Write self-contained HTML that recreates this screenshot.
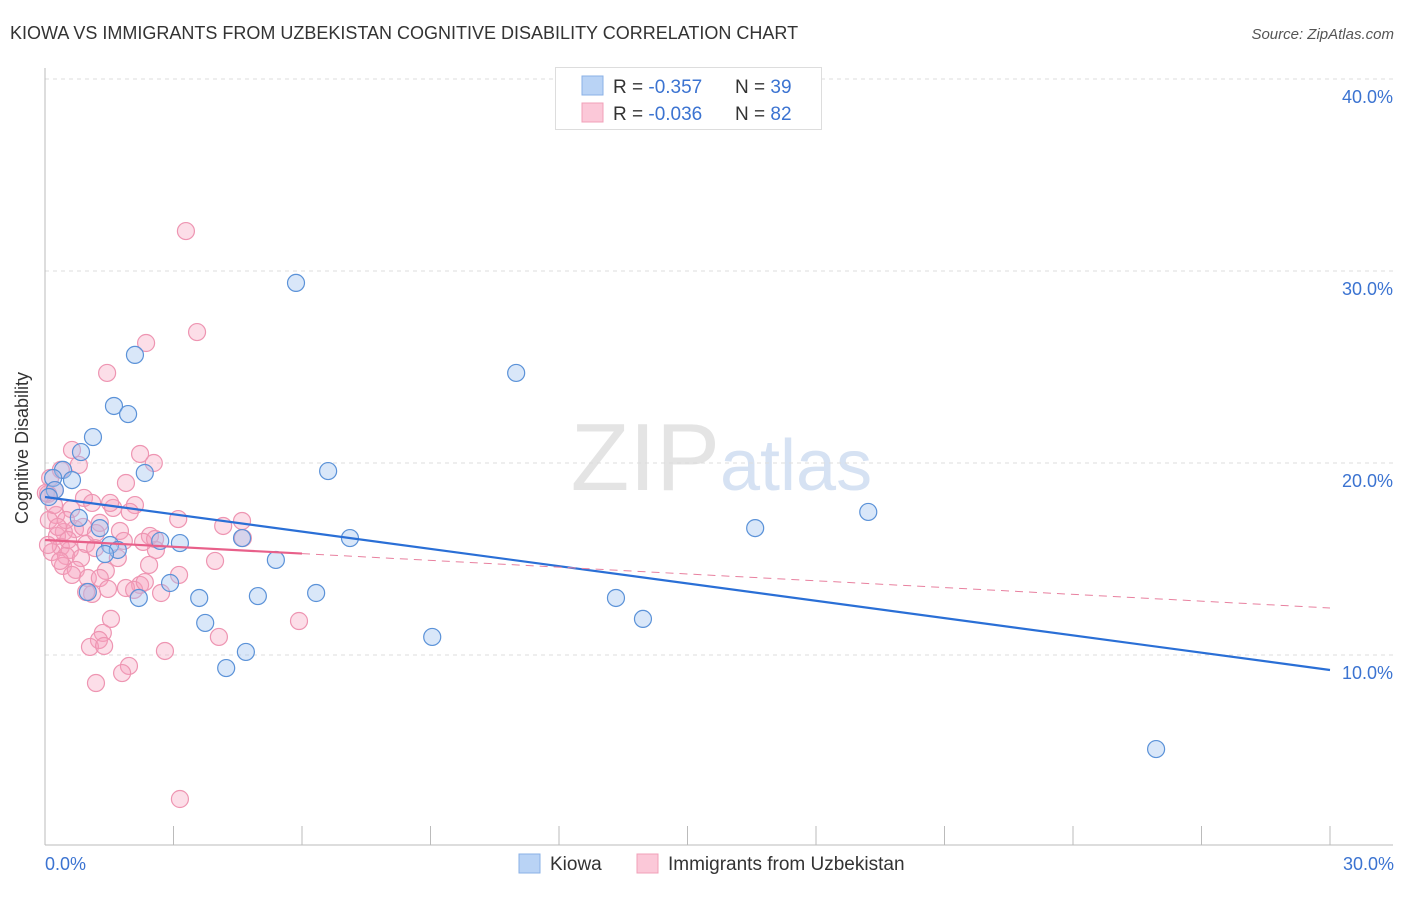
<!DOCTYPE html>
<html><head><meta charset="utf-8"><style>
body{margin:0;background:#fff;font-family:"Liberation Sans",sans-serif;}
svg text{font-family:"Liberation Sans",sans-serif;}
</style></head><body>
<svg width="1406" height="892" viewBox="0 0 1406 892">
<text x="10" y="39" font-size="18" fill="#333">KIOWA VS IMMIGRANTS FROM UZBEKISTAN COGNITIVE DISABILITY CORRELATION CHART</text>
<text x="1394" y="39" font-size="15" fill="#555" font-style="italic" text-anchor="end">Source: ZipAtlas.com</text>
<text x="720" y="490" font-size="96" fill="#e4e4e4" text-anchor="end" font-family="Liberation Serif">ZIP</text>
<text x="720" y="490" font-size="72" fill="#d6e2f3">atlas</text>
<g id="grid"></g>
<g id="axes"></g>
<g id="pinkPts"></g>
<g id="bluePts"></g>
<g id="trends"></g>
<text x="35" y="455" font-size="18" fill="#333" text-anchor="middle" transform="rotate(-90 28 455)">Cognitive Disability</text>
<text x="45" y="870" font-size="18" fill="#3b73d1">0.0%</text>
<text x="1394" y="870" font-size="18" fill="#3b73d1" text-anchor="end">30.0%</text>
<g>
<rect x="555.5" y="67.5" width="266" height="62" fill="#fff" stroke="#ddd"/>
<rect x="582" y="76" width="21" height="19" fill="#b9d3f5" stroke="#8ab0e6"/>
<rect x="582" y="103" width="21" height="19" fill="#fbc8d8" stroke="#f0a0b8"/>
<text x="613" y="93" font-size="19" fill="#333">R = <tspan fill="#3b73d1">-0.357</tspan></text>
<text x="735" y="93" font-size="19" fill="#333">N = <tspan fill="#3b73d1">39</tspan></text>
<text x="613" y="120" font-size="19" fill="#333">R = <tspan fill="#3b73d1">-0.036</tspan></text>
<text x="735" y="120" font-size="19" fill="#333">N = <tspan fill="#3b73d1">82</tspan></text>
</g>
<g>
<rect x="519" y="854" width="21" height="19" fill="#b9d3f5" stroke="#8ab0e6"/>
<text x="550" y="870" font-size="19" fill="#333">Kiowa</text>
<rect x="637" y="854" width="21" height="19" fill="#fbc8d8" stroke="#f0a0b8"/>
<text x="668" y="870" font-size="19" fill="#333">Immigrants from Uzbekistan</text>
</g>
</svg>
<script>
const yTicks=[10,20,30,40];
const yTickLabels=["10.0%","20.0%","30.0%","40.0%"];
const xTicks=[0,3,6,9,12,15,18,21,24,27,30];
const kiowaX=[5.86,11.00,2.10,1.61,1.94,1.12,0.84,0.42,2.33,6.61,0.63,0.19,0.23,0.09,0.79,1.28,19.22,16.58,3.15,2.69,4.60,7.12,1.52,1.70,1.40,5.39,2.92,6.33,4.97,3.60,2.19,13.33,3.74,13.96,9.04,4.69,4.23,25.94,1.00];
const kiowaY=[29.38,24.69,25.63,22.97,22.55,21.35,20.57,19.64,19.48,19.58,19.11,19.22,18.59,18.23,17.14,16.61,17.45,16.61,15.83,15.94,16.09,16.09,15.73,15.47,15.26,14.95,13.75,13.23,13.07,12.97,12.97,12.97,11.67,11.88,10.94,10.16,9.32,5.10,13.28];
const uzbX=[3.29,3.55,2.36,1.45,0.63,2.22,2.54,0.79,0.37,0.12,0.23,0.07,0.91,1.89,1.10,1.59,2.10,0.61,0.26,0.09,3.11,4.16,4.60,1.28,1.75,0.70,0.44,0.28,2.45,2.59,1.84,0.96,0.37,0.58,1.17,0.16,0.49,0.84,1.70,2.29,3.97,2.43,1.42,0.42,0.72,1.00,3.13,1.28,2.22,1.89,2.08,1.47,2.71,1.10,2.33,0.96,1.54,1.35,1.26,1.05,1.38,4.06,2.80,1.96,1.80,1.19,3.15,5.93,4.62,2.57,1.52,0.49,0.89,1.19,0.35,0.63,0.21,0.02,0.54,0.07,0.30,1.98];
const uzbY=[32.08,26.82,26.25,24.69,20.68,20.47,20.00,19.90,19.64,19.22,18.59,18.39,18.18,18.96,17.92,17.66,17.81,17.60,17.29,17.03,17.08,16.72,16.98,16.88,16.46,16.56,16.41,16.20,16.20,15.47,15.94,15.78,15.63,15.47,15.57,15.36,15.16,15.05,15.05,15.89,14.90,14.69,14.38,14.64,14.43,14.01,14.17,14.01,13.65,13.49,13.39,13.44,13.23,13.18,13.80,13.28,11.88,11.15,10.78,10.42,10.47,10.94,10.21,9.43,9.06,8.54,2.50,11.77,16.09,16.04,17.92,17.03,16.67,16.35,14.90,14.17,17.81,18.44,15.99,15.73,16.67,17.45];
const kiowaTrend=[18.23,9.22];   // y at x=0 and x=30
const uzbTrend=[15.99,12.45];    // y at x=0 and x=30
const uzbSolidEnd=6.0;
const NS="http://www.w3.org/2000/svg";
function sx(v){return 45+v*(1285/30);}
function sy(v){return 847-v*19.2;}
function mk(tag,attrs,parent){const e=document.createElementNS(NS,tag);for(const k in attrs)e.setAttribute(k,attrs[k]);parent.appendChild(e);return e;}
const grid=document.getElementById('grid'),axes=document.getElementById('axes');
yTicks.forEach((t,i)=>{
  const l=mk('line',{x1:45,x2:1393,y1:sy(t),y2:sy(t),stroke:'#ddd','stroke-dasharray':'4,4'},grid);
  
  
  const tx=mk('text',{x:1393,y:sy(t)+24,'font-size':18,fill:'#3b73d1','text-anchor':'end'},grid);
  tx.textContent=yTickLabels[i];
  
  
});
const ax=mk('line',{x1:45,x2:1393,y1:845,y2:845,stroke:'#bbb'},axes);


const ay=mk('line',{x1:45,x2:45,y1:68,y2:845,stroke:'#bbb'},axes);


xTicks.forEach(t=>{
  const l=mk('line',{x1:sx(t),x2:sx(t),y1:826,y2:845,stroke:'#bbb'},axes);
  
  
});
const pp=document.getElementById('pinkPts');
uzbX.forEach((x,i)=>{
  const c=mk('circle',{cx:sx(x),cy:sy(uzbY[i]),r:8.5,fill:'rgba(247,160,188,0.35)',stroke:'#ee95b2','stroke-width':1.2},pp);
  
  
});
const bp=document.getElementById('bluePts');
kiowaX.forEach((x,i)=>{
  const c=mk('circle',{cx:sx(x),cy:sy(kiowaY[i]),r:8.5,fill:'rgba(160,196,240,0.4)',stroke:'#5b92d8','stroke-width':1.2},bp);
  
  
});
const tr=document.getElementById('trends');
const bl=mk('line',{x1:sx(0),y1:sy(kiowaTrend[0]),x2:sx(30),y2:sy(kiowaTrend[1]),stroke:'#2a6fd6','stroke-width':2.2},tr);


const ym=uzbTrend[0]+(uzbTrend[1]-uzbTrend[0])*uzbSolidEnd/30;
const pl=mk('line',{x1:sx(0),y1:sy(uzbTrend[0]),x2:sx(uzbSolidEnd),y2:sy(ym),stroke:'#e8608a','stroke-width':2.2},tr);


const pd=mk('line',{x1:sx(uzbSolidEnd),y1:sy(ym),x2:sx(30),y2:sy(uzbTrend[1]),stroke:'#e8809f','stroke-width':1,'stroke-dasharray':'8,6'},tr);


</script>
</body></html>
